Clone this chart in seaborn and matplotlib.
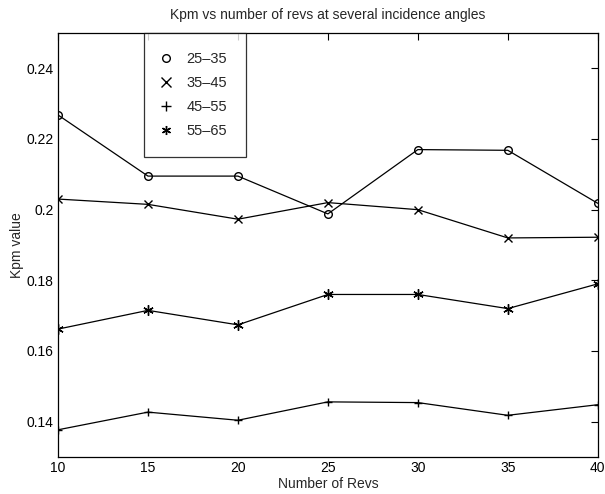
import matplotlib
matplotlib.use("Agg")
import matplotlib.pyplot as plt
import seaborn as sns
import pandas as pd
from matplotlib.lines import Line2D

revs = [10, 15, 20, 25, 30, 35, 40]
s_25_35 = [0.2268, 0.2095, 0.2095, 0.1988, 0.2170, 0.2168, 0.2018]
s_35_45 = [0.2030, 0.2015, 0.1973, 0.2020, 0.2000, 0.1920, 0.1922]
s_45_55 = [0.1377, 0.1427, 0.1404, 0.1456, 0.1454, 0.1418, 0.1448]
s_55_65 = [0.1662, 0.1715, 0.1674, 0.1760, 0.1760, 0.1720, 0.1790]
labels = ["25\u201335", "35\u201345", "45\u201355", "55\u201365"]
series = [s_25_35, s_35_45, s_45_55, s_55_65]
markers = ["o", "x", "+", (6, 2, 0)]

sns.set_style("white")
plt.rcParams["font.family"] = ["Liberation Sans", "DejaVu Sans"]

fig = plt.figure(figsize=(6.05, 4.94), dpi=100)
ax = fig.add_axes([0.0959, 0.0749, 0.8921, 0.8583])

handles = []
for lab, vals, mk in zip(labels, series, markers):
    df = pd.DataFrame({"revs": revs, "kpm": vals})
    sns.lineplot(data=df, x="revs", y="kpm", ax=ax, color="black", linewidth=0.9,
                 marker=mk, markersize=5.5 if mk == "o" else (7.5 if mk == (6, 2, 0) else 6),
                 markerfacecolor="none" if mk == "o" else "black",
                 markeredgecolor="black", markeredgewidth=1.0)
    handles.append(Line2D([], [], linestyle="none", marker=mk, color="black",
                          markerfacecolor="none" if mk == "o" else "black",
                          markersize=5.5 if mk == "o" else 6.5, markeredgewidth=1.0))

ax.set_xlim(10, 40)
ax.set_ylim(0.13, 0.25)
ax.set_xticks([10, 15, 20, 25, 30, 35, 40])
ax.set_yticks([0.14, 0.16, 0.18, 0.2, 0.22, 0.24])
ax.set_yticklabels(["0.14", "0.16", "0.18", "0.2", "0.22", "0.24"])
ax.tick_params(direction="in", length=5, width=0.8, top=True, right=True,
               labelsize=10, colors="black", pad=3)
for sp in ax.spines.values():
    sp.set_visible(True)
    sp.set_color("black")
    sp.set_linewidth(0.9)

ax.set_title("Kpm vs number of revs at several incidence angles", fontsize=10, pad=10)
ax.set_xlabel("Number of Revs", fontsize=10, labelpad=1)
ax.set_ylabel("Kpm value", fontsize=10, labelpad=2)

leg = ax.legend(handles, labels, loc="upper left", bbox_to_anchor=(0.159, 1.0),
                frameon=True, fancybox=False, edgecolor="black", fontsize=10.5,
                handlelength=0.4, handletextpad=1.2, labelspacing=0.68,
                borderpad=1.3, borderaxespad=0, numpoints=1)
leg.get_frame().set_linewidth(0.9)
leg.get_frame().set_facecolor("white")

fig.savefig("out.png", dpi=100)
